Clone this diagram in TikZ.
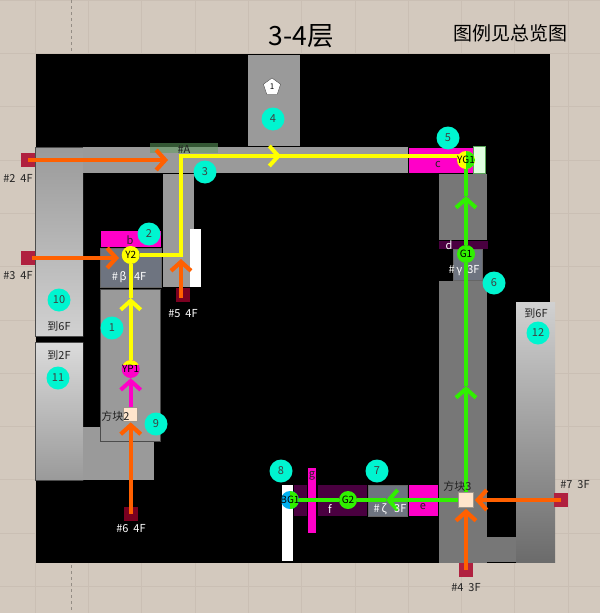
\documentclass[tikz,border=0pt]{standalone}
\usepackage{fontspec}
\setmainfont{Noto Sans CJK SC}
\usepackage{xcolor}
\definecolor{cPaper}{HTML}{D3C9BE}
\definecolor{cGrid}{HTML}{CABFB4}
\definecolor{cRoom}{HTML}{9A9A9A}
\definecolor{cDark}{HTML}{777777}
\definecolor{cSlate}{HTML}{6E7480}
\definecolor{cPink}{HTML}{FF00C8}
\definecolor{cPlum}{HTML}{4A0040}
\definecolor{cTeal}{HTML}{00F5D0}
\definecolor{cDoor}{HTML}{B0203F}
\definecolor{cDoorDark}{HTML}{7A0020}
\definecolor{cOrange}{HTML}{FF6000}
\definecolor{cYellow}{HTML}{FFFF00}
\definecolor{cGreen}{HTML}{30F000}
\definecolor{cBlue}{HTML}{00B0F0}
\definecolor{cText}{HTML}{222222}
\usetikzlibrary{arrows.meta,backgrounds,shapes.geometric}
\tikzset{
  room/.style={fill=cRoom},
  room-dark/.style={fill=cDark},
  room-slate/.style={fill=cSlate,draw=black!60,line width=.6pt},
  room-pink/.style={fill=cPink},
  room-plum/.style={fill=cPlum},
  room-edge/.style={draw=black!70,line width=.8pt},
  node-door/.style={draw=none,fill=cDoor,minimum size=14pt,inner sep=0pt},
  node-door-dark/.style={node-door,fill=cDoorDark},
  node-badge/.style={circle,fill=cTeal,minimum size=23pt,inner sep=0pt,text=black!75,font=\fontsize{11}{12}\selectfont},
  node-point/.style={circle,minimum size=18pt,inner sep=0pt,text=black,font=\fontsize{10}{10}\selectfont},
  node-block/.style={draw=black!25!cPaper,line width=.7pt,fill=orange!20!white,minimum size=14pt,inner sep=0pt},
  lab/.style={inner sep=0pt,text=cText,font=\fontsize{11}{12}\selectfont},
  lab-white/.style={lab,text=white},
  arrow-mid/.style={-{Straight Barb[length=9pt,width=20pt]},line width=4pt},
  link-o/.style={arrow-mid,draw=cOrange,line width=4.2pt,shorten >=1pt},
  link-y/.style={line width=4pt,draw=cYellow},
  link-g/.style={line width=4pt,draw=cGreen},
  link-p/.style={line width=4pt,draw=cPink},
}
\begin{document}
\begin{tikzpicture}[x=1pt,y=-1pt]
  \useasboundingbox (0,0) rectangle (600,613);
  % points
  \node[node-point,fill=cYellow] (y2) at (130.7,255) {\makebox[0pt]{Y2}};
  \node[node-point,fill=cPink,path picture={\fill[cYellow] (path picture bounding box.north west) rectangle ([yshift=-5pt]path picture bounding box.north east);}] (yp1) at (130.7,369) {\makebox[0pt]{YP1}};
  \node[node-point,fill=cYellow,path picture={\fill[cGreen] (path picture bounding box.north) rectangle (path picture bounding box.south east);}] (yg1) at (466,160) {\makebox[0pt]{YG1}};
  \node[node-point,fill=cGreen] (g1) at (466,254) {\makebox[0pt]{G1}};
  \node[node-point,fill=cGreen] (g2) at (348,500) {\makebox[0pt]{G2}};
  \node[node-point,fill=cBlue,path picture={\fill[cGreen] (path picture bounding box.north) rectangle (path picture bounding box.south east);}] (bg1) at (290,500) {\makebox[0pt]{BG1}};
  \node[node-block] (block2) at (130.7,414) {};
  \node[node-block,minimum size=15pt] (block3) at (466,500) {};
  % badges
  \foreach \name/\px/\py/\txt in {b1/112/328/1,b2/149/234/2,b3/205/172/3,b4/273/119/4,b5/448/138/5,b6/494/283/6,b7/377/471/7,b8/281/471/8,b9/156/424/9,b10/59/300/10,b11/58/378/11,b12/538/333/12}{
    \node[node-badge] (\name) at (\px,\py) {\txt};
  }
  \node[regular polygon,regular polygon sides=5,draw=black!70,fill=white,minimum size=18pt,inner sep=0pt,font=\fontsize{8}{8}\selectfont] (mark1) at (272,87) {1};
  % labels
  \node[lab,text=black,font=\fontsize{26.5}{30}\selectfont] (title) at (301,36) {3-4层};
  \node[lab,text=black,font=\fontsize{19}{22}\selectfont] (legend) at (510,33) {图例见总览图};
  \node[lab] (t2) at (18,178) {\#2\ \ 4F};
  \node[lab] (t3) at (18,276) {\#3\ \ 4F};
  \node[lab-white] (t5) at (183,314) {\#5\ \ 4F};
  \node[lab-white] (t6) at (131,529) {\#6\ \ 4F};
  \node[lab] (t4) at (466,588) {\#4\ \ 3F};
  \node[lab] (t7) at (575,485) {\#7\ \ 3F};
  \node[lab-white] (tb) at (129,277) {\#\,β\ \ \ 4F};
  \node[lab-white] (tg) at (464,271) {\#\,γ\ \ 3F};
  \node[lab-white] (tz) at (390,509) {\#\,ζ\ \ \ 3F};
  \node[lab] (ta) at (184,149) {\#A};
  \node[lab] (to2) at (115.5,416) {方块2};
  \node[lab] (to3) at (457.5,486) {方块3};
  \node[lab] (u1) at (59,326) {到6F};
  \node[lab] (u2) at (59,355) {到2F};
  \node[lab] (u3) at (536,313) {到6F};
  \node[lab] (lb) at (130,240) {b};
  \node[lab] (lc) at (438,165) {c};
  \node[lab-white] (ld) at (449,245) {d};
  \node[lab] (le) at (423,507) {e};
  \node[lab-white] (lf) at (330,509) {f};
  \node[lab] (lg) at (312,476) {g};
  \begin{scope}[on background layer]
    \fill[cPaper] (0,0) rectangle (600,613);
    \foreach \k in {0,...,11}{
      \draw[cGrid,line width=.5pt] ({35+53.3*(\k-1)+53.3},0) -- ++(0,613);
      \draw[cGrid,line width=.5pt] (0,{53.3*\k}) -- ++(600,0);
    }
    \draw[black!30!cPaper,dashed,line width=.7pt] (71,0) -- (71,53) (71,565) -- (71,613);
    \fill[black] (36,54) rectangle (550,563);
    % rooms
    \fill[room] (248,55) rectangle (300,146);
    \fill[room] (83,147) rectangle (408,173);
    \shade[top color=cRoom,bottom color=black!18] (35,147) rectangle (83,336);
    \shade[top color=black!14,bottom color=cRoom] (35,342) rectangle (83,480);
    \draw[room-edge] (35,147) -- (83,147) (35,147) -- (35,336) -- (83,336) (83,342) -- (35,342) -- (35,480) -- (83,480);
    \fill[room] (83,427) rectangle (154,480);
    \fill[room,draw=black!70,line width=.6pt] (100,289) rectangle (160,441);
    \fill[room] (163,174) rectangle (194,287);
    \fill[white] (190,229) rectangle (201,287);
    \fill[room-slate] (100,248) rectangle (161,287);
    \fill[room-pink] (101,231) rectangle (161,247);
    \fill[room-pink] (409,148) rectangle (473,173);
    \fill[green!12!white,draw=green!30!gray] (473,146) rectangle (485,173);
    \fill[green!25!gray,fill opacity=.55] (150,143) rectangle (218,153);
    \fill[room-dark] (439,174) rectangle (487,240);
    \fill[room-plum] (439,241) rectangle (488,249);
    \fill[room-slate] (453,249) rectangle (482,280);
    \fill[room-dark] (439,281) rectangle (487,563);
    \fill[room-dark] (487,537) rectangle (516,562);
    \shade[top color=black!18,bottom color=cDark!90!black] (516,302) rectangle (555,562);
    \fill[room-pink] (409,485) rectangle (438,516);
    \fill[room-slate] (368,485) rectangle (407,516);
    \fill[room-plum] (318,485) rectangle (367,516);
    \fill[room-plum] (294,485) rectangle (307,516);
    \fill[room-pink] (308,468) rectangle (316,533);
    \fill[white] (282,485) rectangle (293,561);
    % doors
    \node[node-door] (d2) at (28,160) {};
    \node[node-door] (d3) at (28,258) {};
    \node[node-door-dark] (d5) at (183,295) {};
    \node[node-door-dark] (d6) at (130.7,514) {};
    \node[node-door] (d4) at (466,570) {};
    \node[node-door] (d7) at (561,500) {};
    % free ends
    \coordinate (s3) at (32,258);
    \coordinate (s5) at (181,298);
    \coordinate (e2) at (169,160);
    \coordinate (e3) at (120,258);
    \coordinate (e5) at (181,258);
    \coordinate (c1) at (181,255);
    \coordinate (c2) at (181,156);
    \coordinate (c3) at (281,156);
    \coordinate (c7) at (466,156);
    \coordinate (m1) at (130.7,298);
    \coordinate (m2) at (466,196);
    \coordinate (m3) at (466,386);
    \coordinate (m4) at (386,500);
    % connectors
    \draw[link-o] (d2.center) -- (e2);
    \draw[link-o] (s3) -- (e3);
    \draw[link-o] (s5) -- (e5);
    \draw[link-o] (d6.center) -- (block2.south);
    \draw[link-o] (d4.center) -- (block3.south);
    \draw[link-o] (d7.center) -- (block3.east);
    \draw[link-p,arrow-mid] (block2.north) -- (yp1.south);
    \draw[link-y,arrow-mid] (yp1) -- (m1);
    \draw[link-y] (m1) -- (y2);
    \draw[link-y,line join=miter] (y2) -- (c1) -- (c2) -- (c3);
    \draw[link-y,arrow-mid] (c2) -- (c3);
    \draw[link-y] (c3) -- (c7);
    \draw[link-g,arrow-mid] (block3.north) -- (m3);
    \draw[link-g] (m3) -- (g1);
    \draw[link-g,arrow-mid] (g1) -- (m2);
    \draw[link-g] (m2) -- (yg1);
    \draw[link-g,arrow-mid] (block3.west) -- (m4);
    \draw[link-g] (m4) -- (g2);
    \draw[link-g] (g2) -- (bg1);
  \end{scope}
\end{tikzpicture}
\end{document}
